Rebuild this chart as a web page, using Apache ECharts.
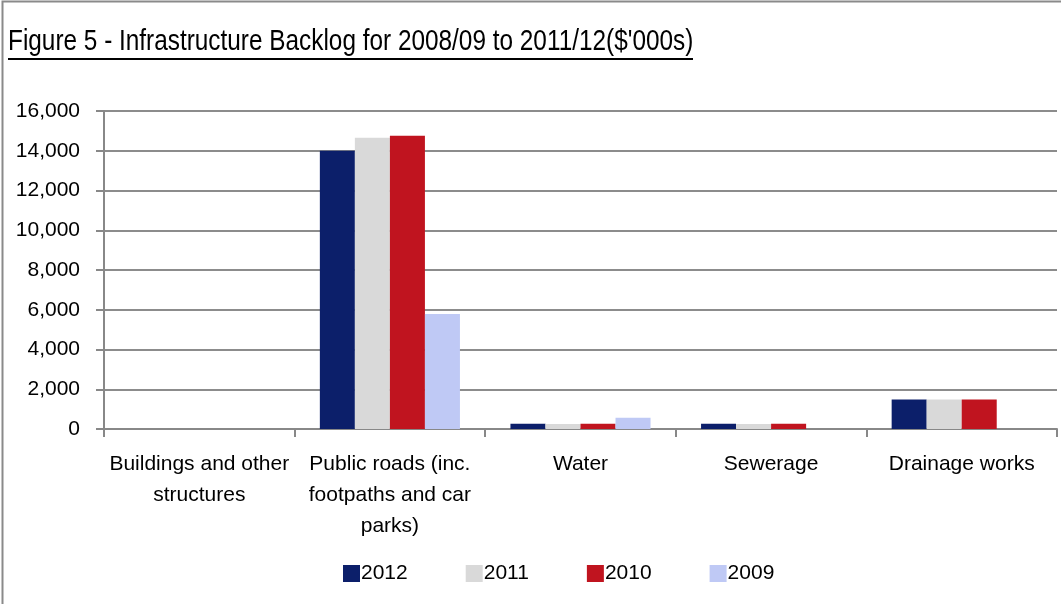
<!DOCTYPE html>
<html>
<head>
<meta charset="utf-8">
<script src="https://cdn.jsdelivr.net/npm/echarts@6/dist/echarts.min.js"></script>
<style>html,body{margin:0;padding:0;background:#fff}#c{width:1061px;height:604px}</style>
</head>
<body>
<div id="c"></div>
<script>
const categories = ["Buildings and other\nstructures", "Public roads (inc.\nfootpaths and car\nparks)", "Water", "Sewerage", "Drainage works"];
const s2012 = [0, 14000, 270, 270, 1480];
const s2011 = [0, 14650, 250, 250, 1480];
const s2010 = [0, 14750, 270, 270, 1480];
const s2009 = [0, 5780, 570, 0, 0];
const yTicks = [0, 2000, 4000, 6000, 8000, 10000, 12000, 14000, 16000];
const seriesNames = ["2012", "2011", "2010", "2009"];
const colors = ["#0c1f6a", "#d9d9d9", "#c0141f", "#bfc9f5"];

const FONT = '"Liberation Sans Narrow", "Arial Narrow", "Liberation Sans", sans-serif';
const chart = echarts.init(document.getElementById('c'));
const allData = [s2012, s2011, s2010, s2009];
chart.setOption({
  animation: false,
  textStyle: {fontFamily: FONT},
  graphic: [
    {type: 'rect', shape: {x: 2.5, y: 1.5, width: 1070, height: 620}, style: {fill: 'none', stroke: '#8a8a8a', lineWidth: 2}},
    {type: 'text', x: 8, y: 56, scaleX: 0.84, style: {text: "Figure 5 - Infrastructure Backlog for 2008/09 to 2011/12($'000s)", font: '29px ' + FONT, fill: '#000', textVerticalAlign: 'bottom', verticalAlign: 'bottom'}},
    {type: 'line', shape: {x1: 8, y1: 59, x2: 693, y2: 59}, style: {stroke: '#000', lineWidth: 2}}
  ],
  legend: {
    data: seriesNames,
    left: 338, top: 558,
    icon: 'rect', itemWidth: 17, itemHeight: 17, itemGap: 58,
    textStyle: {fontSize: 21, color: '#000', fontFamily: FONT, padding: [0,0,0,-4]}
  },
  grid: {left: 104, right: 4, top: 111, bottom: 175},
  xAxis: {
    type: 'category', data: categories,
    axisLine: {lineStyle: {color: '#888', width: 2}},
    axisTick: {show: true, length: 8, lineStyle: {color: '#888', width: 2}},
    axisLabel: {fontSize: 21, color: '#000', lineHeight: 31, margin: 20, interval: 0, fontFamily: FONT}
  },
  yAxis: {
    type: 'value', min: 0, max: 16000, interval: 2000,
    axisLine: {show: true, lineStyle: {color: '#888', width: 2}},
    axisTick: {show: true, length: 8, lineStyle: {color: '#888', width: 2}},
    splitLine: {lineStyle: {color: '#8c8c8c', width: 2}},
    axisLabel: {fontSize: 21, color: '#000', margin: 24, fontFamily: FONT,
      formatter: v => yTicks.includes(v) ? v.toLocaleString('en-US') : ''}
  },
  series: seriesNames.map((n, i) => ({
    name: n, type: 'bar', data: allData[i],
    barGap: '0%', barCategoryGap: '26.5%',
    itemStyle: {color: colors[i]}
  }))
});
</script>
</body>
</html>
